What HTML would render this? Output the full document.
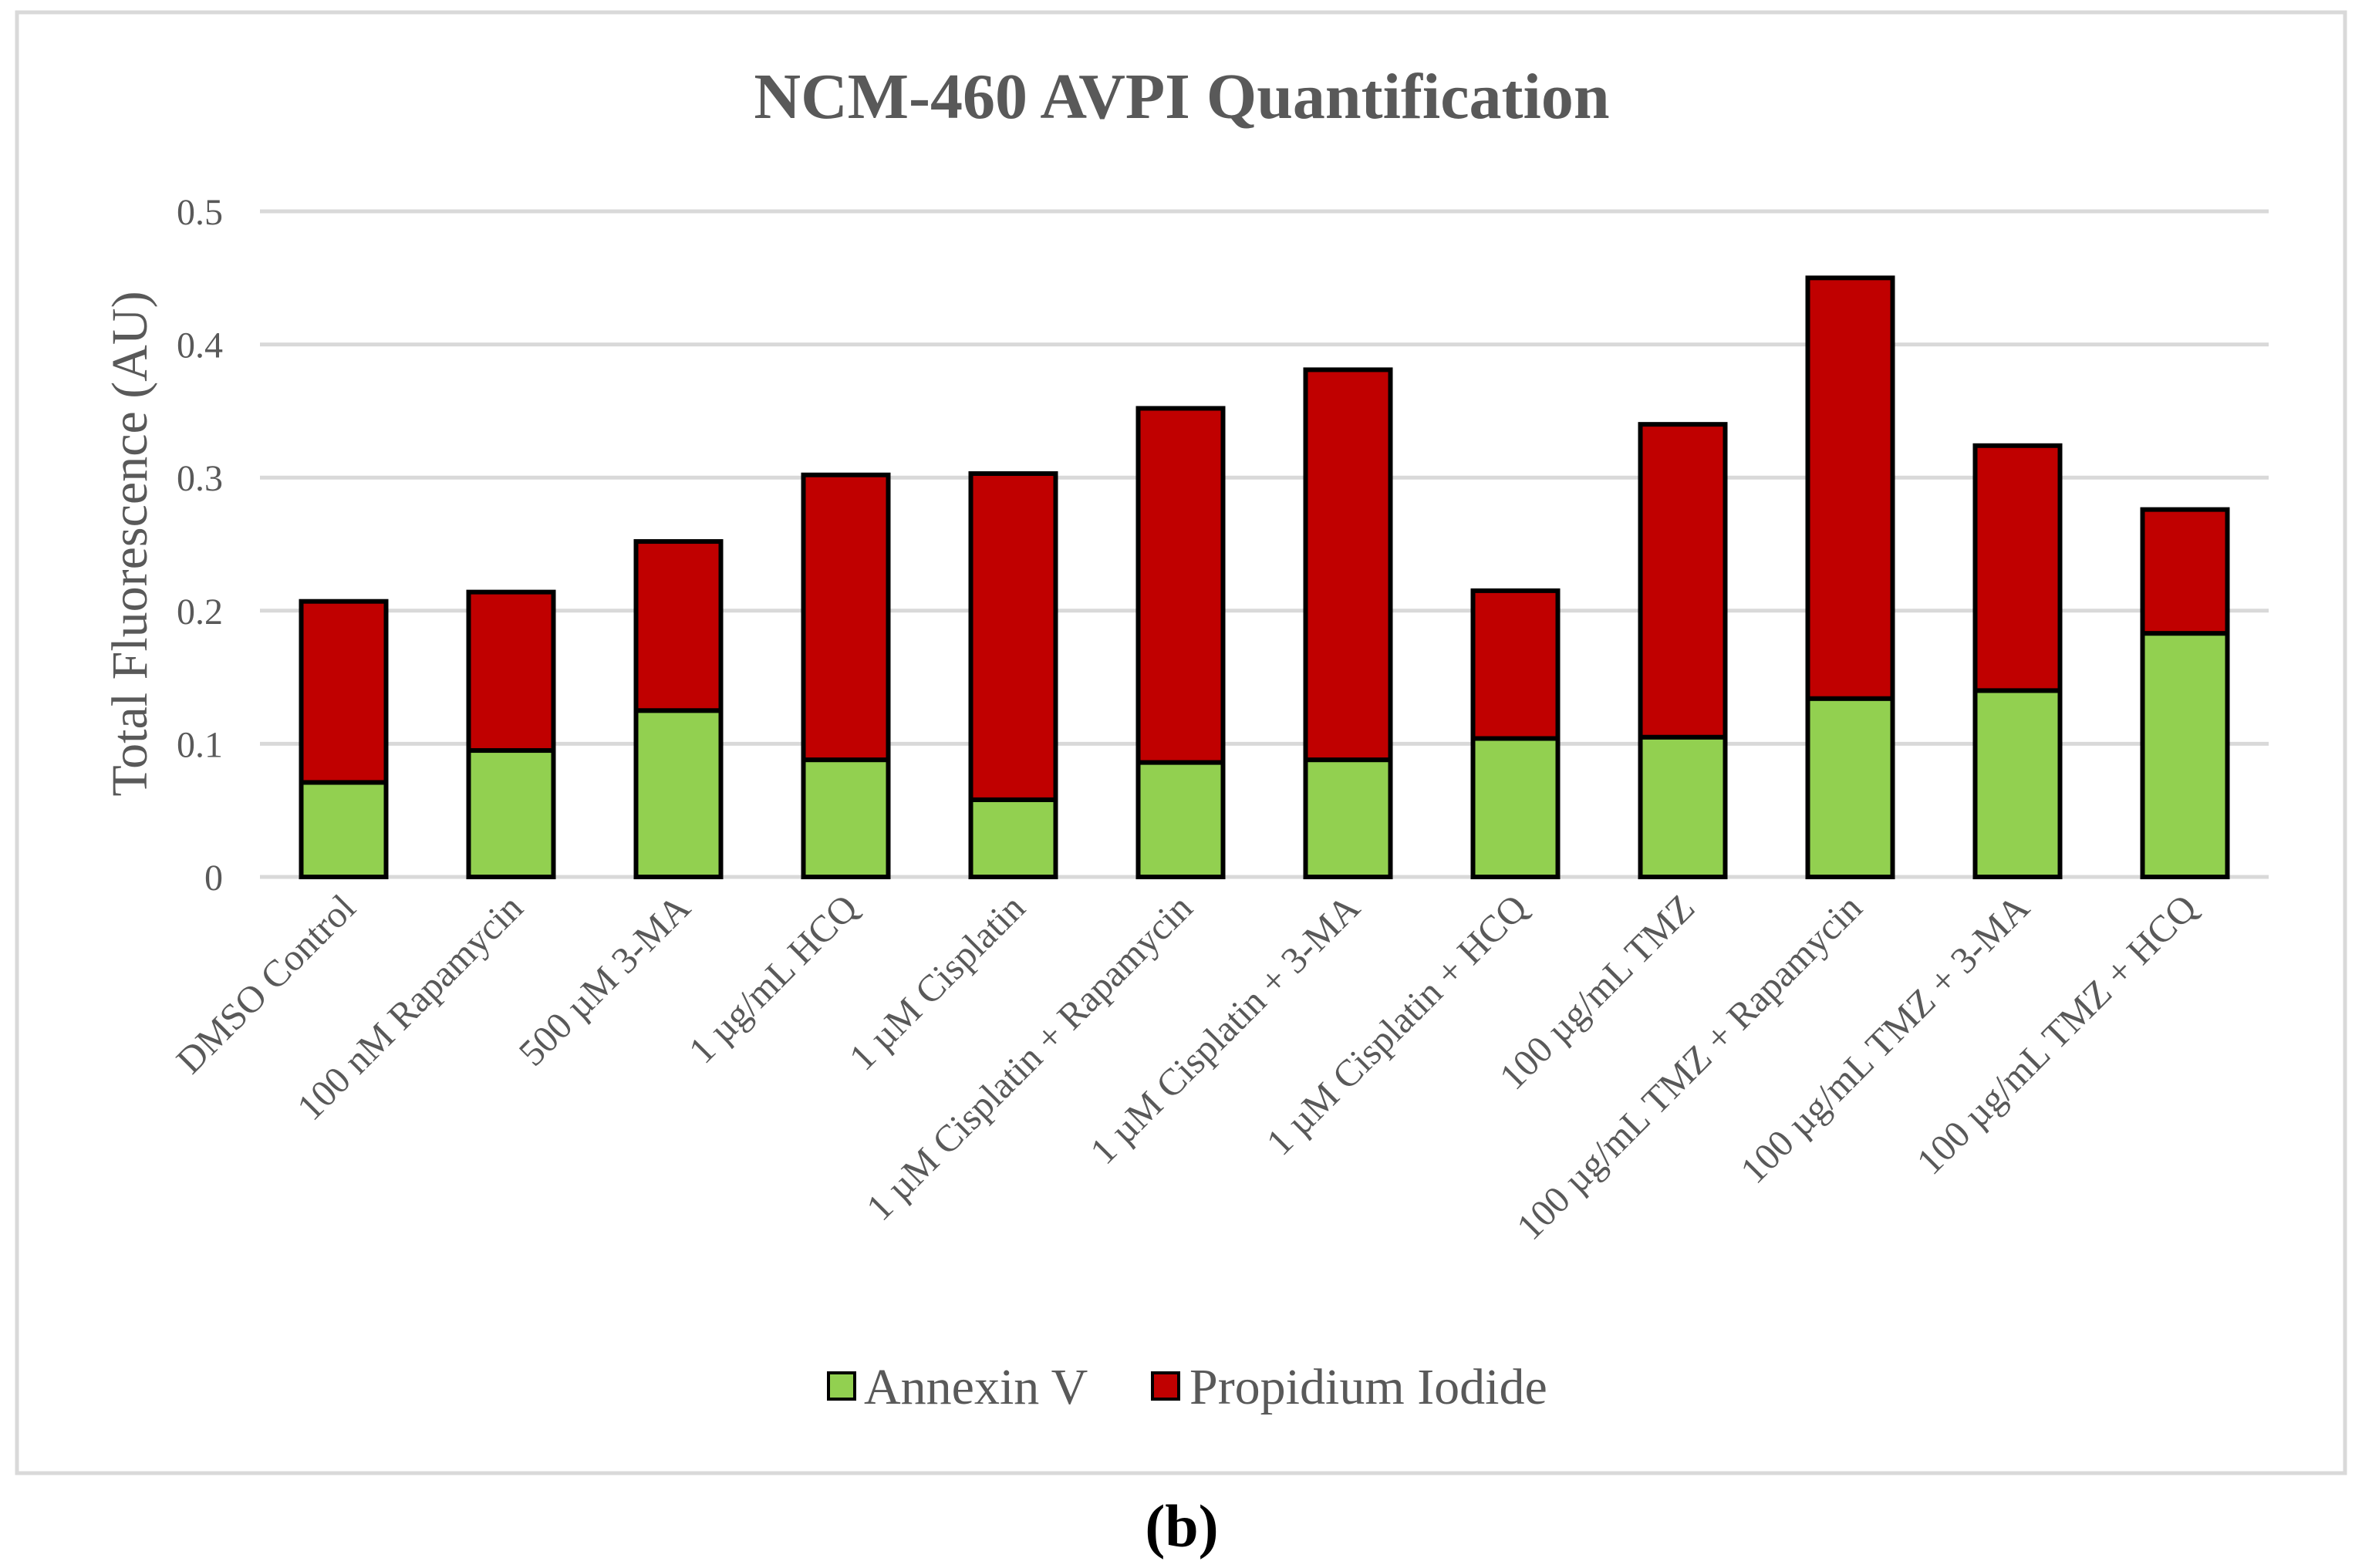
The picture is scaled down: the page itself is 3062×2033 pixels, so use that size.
<!DOCTYPE html>
<html><head><meta charset="utf-8"><style>
html,body{margin:0;padding:0;background:#fff;}
svg{display:block;font-family:"Liberation Serif",serif;}
</style></head><body>
<svg id="chart" width="3062" height="2033" viewBox="0 0 3062 2033">
<rect x="22" y="16" width="3018" height="1894" fill="#fff" stroke="#d9d9d9" stroke-width="5"/>
<text x="1532" y="153" text-anchor="middle" font-size="84" font-weight="bold" fill="#595959">NCM-460 AVPI Quantification</text>
<g id="grid"></g>
<g id="bars"></g>
<g id="xlabels"></g>
<text transform="translate(190,705) rotate(-90)" text-anchor="middle" font-size="66" fill="#595959">Total Fluorescence (AU)</text>
<g>
<rect x="1074" y="1780" width="34" height="34" fill="#92d050" stroke="#000" stroke-width="4"/>
<text x="1120" y="1820" font-size="66" fill="#595959">Annexin V</text>
<rect x="1494" y="1780" width="34" height="34" fill="#c00000" stroke="#000" stroke-width="4"/>
<text x="1542" y="1820" font-size="66" fill="#595959">Propidium Iodide</text>
</g>
<text x="1532" y="2005" text-anchor="middle" font-size="78" font-weight="bold" fill="#000">(b)</text>
</svg>
<script>
const categories = ["DMSO Control","100 nM Rapamycin","500 µM 3-MA","1 µg/mL HCQ","1 µM Cisplatin","1 µM Cisplatin + Rapamycin","1 µM Cisplatin + 3-MA","1 µM Cisplatin + HCQ","100 µg/mL TMZ","100 µg/mL TMZ + Rapamycin","100 µg/mL TMZ + 3-MA","100 µg/mL TMZ + HCQ"];
const annexin = [0.071,0.095,0.125,0.088,0.058,0.086,0.088,0.104,0.105,0.134,0.14,0.183];
const propidium = [0.136,0.119,0.127,0.214,0.245,0.266,0.293,0.111,0.235,0.316,0.184,0.093];
const yTicks = [0,0.1,0.2,0.3,0.4,0.5];
const yTickLabels = ["0","0.1","0.2","0.3","0.4","0.5"];

const NS="http://www.w3.org/2000/svg";
const X0=337,X1=2941,Y0=1137,Y1=274;
const y=v=>Y0-(v/0.5)*(Y0-Y1);
const band=(X1-X0)/categories.length;
const xc=i=>X0+band*(i+0.5);
const BW=110;
function mk(t,a){const e=document.createElementNS(NS,t);for(const k in a)e.setAttribute(k,a[k]);return e;}
const grid=document.getElementById('grid');
yTicks.forEach((t,i)=>{
  const l=mk('line',{x1:X0,x2:X1,y1:y(t),y2:y(t),stroke:'#d9d9d9','stroke-width':5});
  
  
  grid.appendChild(l);
  const tx=mk('text',{x:X0-48,y:y(t)+17,'text-anchor':'end','font-size':48,fill:'#595959'});
  tx.textContent=yTickLabels[i];
  
  
  grid.appendChild(tx);
});
const bars=document.getElementById('bars');
const xl=document.getElementById('xlabels');
categories.forEach((c,i)=>{
  const x=xc(i)-BW/2;
  const g1=mk('rect',{x:x,y:y(annexin[i]),width:BW,height:y(0)-y(annexin[i]),fill:'#92d050',stroke:'#000','stroke-width':6});
  
  
  bars.appendChild(g1);
  const top=annexin[i]+propidium[i];
  const g2=mk('rect',{x:x,y:y(top),width:BW,height:y(annexin[i])-y(top),fill:'#c00000',stroke:'#000','stroke-width':6});
  
  
  bars.appendChild(g2);
  const t=mk('text',{transform:`translate(${xc(i)+18},${1180}) rotate(-45)`,'text-anchor':'end','font-size':49,fill:'#595959'});
  t.textContent=c;
  
  
  xl.appendChild(t);
});
</script>
</body></html>
